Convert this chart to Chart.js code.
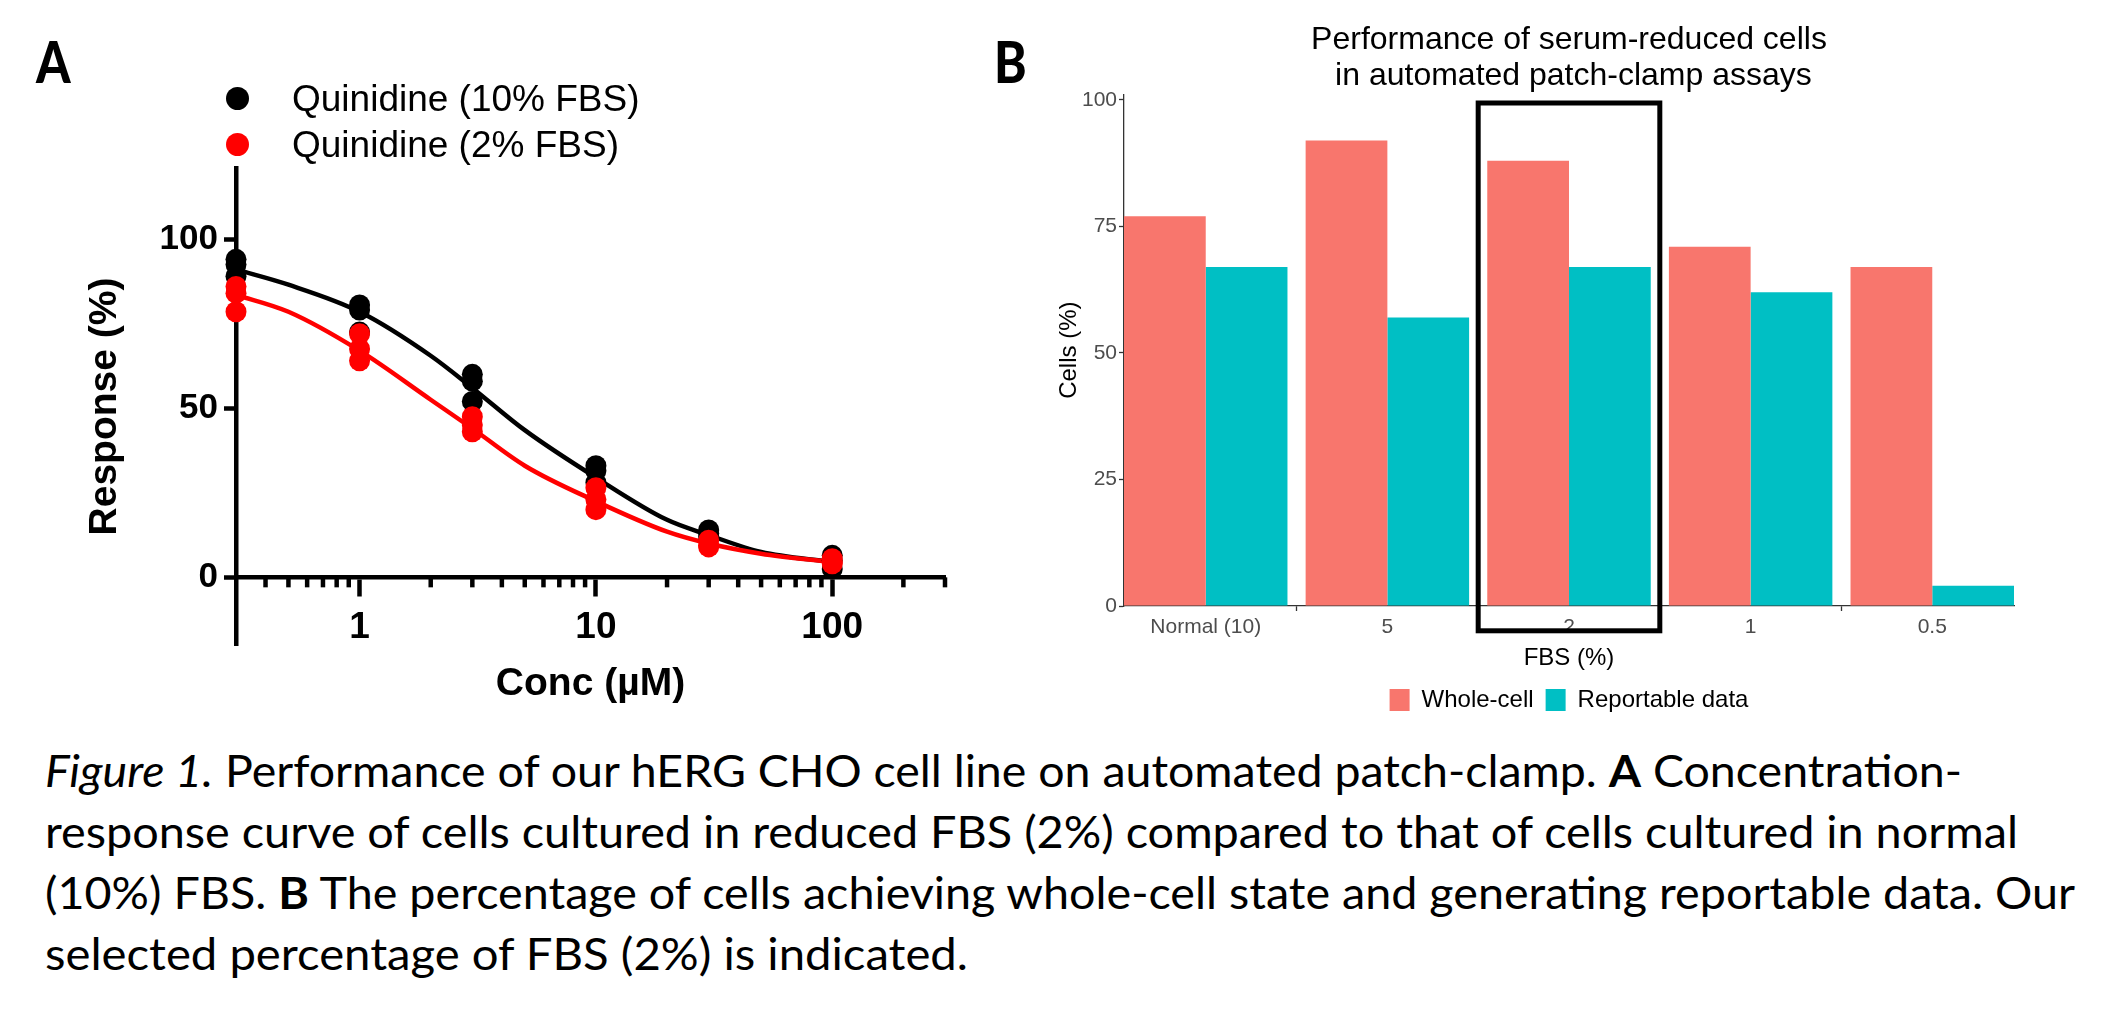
<!DOCTYPE html>
<html>
<head>
<meta charset="utf-8">
<script src="https://cdn.jsdelivr.net/npm/chart.js@4.4.1/dist/chart.umd.min.js"></script>
<style>
  html, body { margin: 0; padding: 0; background: #fff; }
  #page { position: relative; width: 2108px; height: 1028px; overflow: hidden; background: #fff; }
  .panel-letter { position: absolute; font-family: Lato, sans-serif; font-weight: 900; font-size: 58px; line-height: 1; transform: scaleX(0.85); transform-origin: left top; }
  #legendA { position: absolute; left: 0; top: 0; font-family: 'Liberation Sans', Arial, sans-serif; font-size: 37px; z-index: 2; }
  .lgA { position: absolute; white-space: nowrap; line-height: 1; }
  .lgA .dot { position: absolute; width: 23px; height: 23px; border-radius: 50%; }
  #caption { position: absolute; left: 45px; top: 740px; font-family: Lato, sans-serif; font-size: 44px; line-height: 61px; color: #000; }
  #caption .ln { display: block; height: 61px; }
  #caption .ln span { display: inline-block; white-space: nowrap; transform-origin: left center; }
  canvas { position: absolute; }
</style>
</head>
<body>
<div id="page">
  <div class="panel-letter" style="left:36px; top:32px;">A</div>
  <div class="panel-letter" style="left:994px; top:32px;">B</div>
  <div id="legendA"></div>
  <canvas id="chartA" style="left:0; top:100px; width:1000px; height:620px;" width="1000" height="620"></canvas>
  <canvas id="chartB" style="left:1000px; top:0; width:1108px; height:730px;" width="1108" height="730"></canvas>
  <div id="caption">
    <div class="ln"><span data-w="1917"><i>Figure 1.</i> Performance of our hERG CHO cell line on automated patch-clamp. <b>A</b> Concentration-</span></div>
    <div class="ln"><span data-w="1973">response curve of cells cultured in reduced FBS (2%) compared to that of cells cultured in normal</span></div>
    <div class="ln"><span data-w="2030">(10%) FBS. <b>B</b> The percentage of cells achieving whole-cell state and generating reportable data. Our</span></div>
    <div class="ln"><span data-w="923">selected percentage of FBS (2%) is indicated.</span></div>
  </div>
</div>
<script>
// ---- panel A data: quinidine concentration-response ----
var concA = [0.3, 1, 3, 10, 30, 100];
var fbs10Rep1 = [94, 80.5, 60, 33, 14, 6.5];
var fbs10Rep2 = [89, 79, 58, 31.5, 13, 5];
var fbs10Rep3 = [92.5, 72.5, 52, 28, 12, 2.5];
var fbs2Rep1 = [86, 72, 47.5, 26.5, 11, 5.5];
var fbs2Rep2 = [84, 67.5, 45, 23, 9.5, 4.5];
var fbs2Rep3 = [78.5, 64, 43, 20, 9, 4];

// fitted curves
var fitConc = [0.3, 0.5, 1, 2, 3, 5, 10, 20, 30, 50, 100];
var fit10 = [91, 86.5, 78.5, 65.5, 56, 43.5, 29.5, 17, 12.5, 7.5, 4.5];
var fit2 = [83.5, 78.5, 67, 52.5, 44, 33, 22.5, 13.5, 10, 7, 4.5];

var seriesLabelsA = ['Quinidine (10% FBS)', 'Quinidine (2% FBS)'];
var xMajorTicksA = [1, 10, 100];
var xMinorTicksA = [0.4, 0.5, 0.6, 0.7, 0.8, 0.9, 2, 3, 4, 5, 6, 7, 8, 9,
                    20, 30, 40, 50, 60, 70, 80, 90, 200, 300];
var yTicksA = [0, 50, 100];

// ---- panel B data: serum-reduced cells ----
var fbsLabels = ['Normal (10)', '5', '2', '1', '0.5'];
var wholeCell = [77, 92, 88, 71, 67];
var reportable = [67, 57, 67, 62, 4];
var yTicksB = [0, 25, 50, 75, 100];
var highlight = { xMin: 2.5, xMax: 3.5, yMin: -4.9, yMax: 99.4 };

Chart.defaults.font.family = "'Liberation Sans', Arial, sans-serif";
Chart.defaults.color = '#000';
Chart.defaults.animation = false;

function pts(xs, ys) {
  return xs.map(function (x, i) { return { x: x, y: ys[i] }; });
}
function reps(a, b, c) {
  return pts(concA, a).concat(pts(concA, b), pts(concA, c));
}

// html legend for panel A
var colorsA = ['#000000', '#ff0000'];
var lg = document.getElementById('legendA');
seriesLabelsA.forEach(function (lab, i) {
  var d = document.createElement('div');
  d.className = 'lgA';
  d.style.left = '292px';
  d.style.top = (99 + i * 46 - 19) + 'px';
  d.innerHTML = '<span class="dot" style="left:-66px; top:7px; background:' + colorsA[i] + '"></span>' + lab;
  lg.appendChild(d);
});

var minorTicks = {
  id: 'minorTicks',
  afterDraw: function (chart) {
    var x = chart.scales.x, y = chart.scales.y, ctx = chart.ctx;
    var y0 = y.getPixelForValue(0);
    ctx.save();
    ctx.strokeStyle = '#000';
    ctx.lineWidth = 4.5;
    xMinorTicksA.forEach(function (v) {
      var px = x.getPixelForValue(v);
      ctx.beginPath();
      ctx.moveTo(px, y0);
      ctx.lineTo(px, y0 + 10);
      ctx.stroke();
    });
    ctx.restore();
  }
};

new Chart(document.getElementById('chartA'), {
  type: 'scatter',
  data: {
    datasets: [
      { label: seriesLabelsA[0] + ' fit', data: pts(fitConc, fit10), showLine: true, borderColor: '#000',
        borderWidth: 4.5, pointRadius: 0, cubicInterpolationMode: 'monotone', order: 4 },
      { label: seriesLabelsA[1] + ' fit', data: pts(fitConc, fit2), showLine: true, borderColor: '#ff0000',
        borderWidth: 4.5, pointRadius: 0, cubicInterpolationMode: 'monotone', order: 3 },
      { label: seriesLabelsA[0], data: reps(fbs10Rep1, fbs10Rep2, fbs10Rep3), backgroundColor: '#000',
        borderWidth: 0, pointRadius: 10.5, clip: false, order: 2 },
      { label: seriesLabelsA[1], data: reps(fbs2Rep1, fbs2Rep2, fbs2Rep3), backgroundColor: '#ff0000',
        borderWidth: 0, pointRadius: 10.5, clip: false, order: 1 }
    ]
  },
  options: {
    responsive: false,
    layout: { padding: { top: 68, bottom: 75, left: 0, right: 55 } },
    plugins: { legend: { display: false }, tooltip: { enabled: false } },
    scales: {
      x: {
        type: 'logarithmic', min: 0.3, max: 300, position: { y: 0 },
        border: { color: '#000', width: 4.5 },
        grid: { drawOnChartArea: false, tickLength: 17, tickWidth: 4.5, tickColor: '#000' },
        afterBuildTicks: function (s) { s.ticks = xMajorTicksA.map(function (v) { return { value: v }; }); },
        ticks: { color: '#000', padding: 11, font: { size: 37, weight: 'bold' }, maxRotation: 0,
                 callback: function (v) { return String(v); } },
        title: { display: true, text: 'Conc (µM)', color: '#000', font: { size: 39, weight: 'bold' },
                 padding: { top: 0, bottom: 0 } }
      },
      y: {
        min: -20, max: 121,
        border: { color: '#000', width: 4.5 },
        grid: { drawOnChartArea: false, tickLength: 12, tickWidth: 4.5, tickColor: '#000' },
        afterBuildTicks: function (s) { s.ticks = yTicksA.map(function (v) { return { value: v }; }); },
        afterFit: function (s) { s.width = 236; },
        ticks: { color: '#000', padding: 6, font: { size: 35, weight: 'bold' } },
        title: { display: true, text: 'Response (%)', color: '#000', font: { size: 39, weight: 'bold' },
                 padding: { top: 82, bottom: 0 } }
      }
    }
  },
  plugins: [minorTicks]
});

var highlightBox = {
  id: 'highlightBox',
  afterDraw: function (chart) {
    var x = chart.scales.x, y = chart.scales.y, ctx = chart.ctx;
    var l = x.getPixelForValue(highlight.xMin), r = x.getPixelForValue(highlight.xMax);
    var t = y.getPixelForValue(highlight.yMax), b = y.getPixelForValue(highlight.yMin);
    ctx.save();
    ctx.strokeStyle = '#000';
    ctx.lineWidth = 5;
    ctx.strokeRect(l, t, r - l, b - t);
    ctx.restore();
  }
};

new Chart(document.getElementById('chartB'), {
  type: 'bar',
  data: {
    datasets: [
      { label: 'Whole-cell', data: pts([1, 2, 3, 4, 5], wholeCell), backgroundColor: '#F8766D',
        borderWidth: 0, barPercentage: 1, categoryPercentage: 0.9 },
      { label: 'Reportable data', data: pts([1, 2, 3, 4, 5], reportable), backgroundColor: '#00BFC4',
        borderWidth: 0, barPercentage: 1, categoryPercentage: 0.9 }
    ]
  },
  options: {
    responsive: false,
    layout: { padding: { top: 0, bottom: 8, left: 0, right: 94 } },
    plugins: {
      tooltip: { enabled: false },
      title: {
        display: true, fullSize: false,
        text: ['Performance of serum-reduced cells', ' in automated patch-clamp assays'],
        color: '#000', font: { size: 32, weight: 'normal', lineHeight: 1.1 },
        padding: { top: 23, bottom: 1 }
      },
      legend: {
        position: 'bottom', fullSize: false,
        labels: { boxWidth: 20, boxHeight: 22, padding: 12, color: '#000', font: { size: 24 } }
      }
    },
    scales: {
      x: {
        type: 'linear', min: 0.55, max: 5.45, offset: false,
        border: { color: '#333', width: 1.3 },
        grid: { drawOnChartArea: false, tickLength: 5, tickWidth: 1.3, tickColor: '#333' },
        afterBuildTicks: function (s) { s.ticks = fbsLabels.map(function (c, i) { return { value: i + 1 }; }); },
        ticks: { color: '#4d4d4d', padding: 4, font: { size: 21 }, maxRotation: 0,
                 callback: function (v) { return fbsLabels[Math.round(v) - 1]; } },
        title: { display: true, text: 'FBS (%)', color: '#000', font: { size: 24 }, padding: { top: 0, bottom: 3 } }
      },
      y: {
        min: 0, max: 101.1,
        border: { color: '#333', width: 1.3 },
        grid: { drawOnChartArea: false, tickLength: 5, tickWidth: 1.3, tickColor: '#333' },
        afterBuildTicks: function (s) { s.ticks = yTicksB.map(function (v) { return { value: v }; }); },
        afterFit: function (s) { s.width = 124; },
        ticks: { color: '#4d4d4d', padding: 2, font: { size: 21 } },
        title: { display: true, text: 'Cells (%)', color: '#000', font: { size: 24 }, padding: { top: 55, bottom: 0 } }
      }
    }
  },
  plugins: [highlightBox]
});

// fit caption lines to the reference line widths
document.querySelectorAll('#caption .ln span').forEach(function (s) {
  var w = s.getBoundingClientRect().width;
  var target = parseFloat(s.getAttribute('data-w'));
  s.style.transform = 'scaleX(' + (target / w).toFixed(4) + ')';
});
</script>
</body>
</html>
